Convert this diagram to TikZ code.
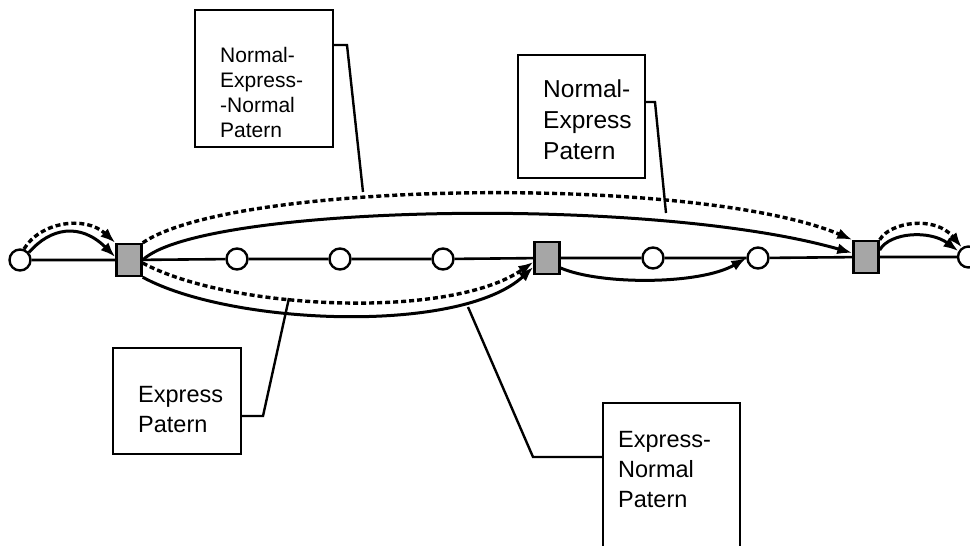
\documentclass[tikz,border=0pt]{standalone}
\usepackage{fontspec}
\setmainfont{Liberation Sans}
\usetikzlibrary{arrows.meta}
\begin{document}
\begin{tikzpicture}[x=1pt,y=-1pt,
  stn/.style={circle,draw,line width=2.4pt,minimum size=21pt,inner sep=0pt,fill=white},
  sqr/.style={rectangle,draw,line width=2.4pt,minimum width=25pt,minimum height=32pt,inner sep=0pt,fill=black!35},
  lbox/.style={rectangle,draw,line width=2.2pt,inner sep=0pt},
  ltext/.style={anchor=base west,inner sep=0pt,align=left},
  sol/.style={line width=3pt,-{Latex[length=15pt,width=11pt]}},
  dsh/.style={line width=3.4pt,dash pattern=on 5pt off 3pt,-{Latex[length=15pt,width=11pt]}},
  call/.style={line width=2.4pt}]
\useasboundingbox (0,0) rectangle (970,546);

% stations
\node[stn] (c0) at (20,260) {};
\node[sqr] (sq1) at (129,260) {};
\node[stn] (c1) at (237,259) {};
\node[stn] (c2) at (340,259) {};
\node[stn] (c3) at (443,259) {};
\node[sqr] (sq2) at (547,258) {};
\node[stn] (c4) at (653,258) {};
\node[stn] (c5) at (758,258) {};
\node[sqr] (sq3) at (866,257) {};
\node[stn] (c6) at (968.5,257) {};

% main line
\draw[line width=2.6pt] (c0) -- (sq1) -- (c1) -- (c2) -- (c3) -- (sq2) -- (c4) -- (c5) -- (sq3) -- (c6);

% left small curves
\draw[sol] (c0.40) .. controls (50,228) and (80,222) .. ([yshift=3pt]sq1.west);
\draw[dsh] (c0.70) .. controls (40,222) and (85,215) .. (sq1.north west);

% big top curves
\draw[dsh] (sq1.north east) .. controls (235,180) and (700,175) .. (sq3.north west);
\draw[sol] (sq1.east) .. controls (200,205) and (650,195) .. ([yshift=4pt]sq3.west);

% bottom curves
\draw[sol] (sq1.south east) .. controls (230,325) and (460,335) .. ([yshift=-9pt]sq2.west);
\draw[dsh] ([yshift=-3pt]sq1.east) .. controls (230,310) and (450,320) .. ([yshift=-4pt]sq2.west);

% sq2 to c5
\draw[sol] ([yshift=-10pt]sq2.east) .. controls (600,285) and (700,285) .. (c5.west);

% right small curves
\draw[sol] ([yshift=7pt]sq3.east) .. controls (890,232) and (930,230) .. (c6.150);
\draw[dsh] (sq3.north east) .. controls (890,222) and (935,215) .. (c6.125);

% label boxes
\node[lbox,minimum width=138pt,minimum height=137pt] (b1) at (264,78.5) {};
\node[ltext,font=\fontsize{21}{24.7}\selectfont] (t1) at (220,137) {Normal-\\Express-\\-Normal\\Patern};

\node[lbox,minimum width=127pt,minimum height=123pt] (b2) at (581.5,116.5) {};
\node[ltext,font=\fontsize{24.5}{31}\selectfont] (t2) at (543,159) {Normal-\\Express\\Patern};

\node[lbox,minimum width=128pt,minimum height=106pt] (b3) at (177,401) {};
\node[ltext,font=\fontsize{23.5}{30}\selectfont] (t3) at (138,432) {Express\\Patern};

\node[lbox,minimum width=137pt,minimum height=170pt] (b4) at (671.5,488) {};
\node[ltext,font=\fontsize{23.5}{30}\selectfont] (t4) at (618,507) {Express-\\Normal\\Patern};

% callouts
\coordinate (k1) at (347,45);  \coordinate (e1) at (363,192);
\coordinate (k2) at (655,102); \coordinate (e2) at (666,213);
\coordinate (k3) at (263,416); \coordinate (e3) at (289,298);
\coordinate (k4) at (533,457); \coordinate (e4) at (468,307);
\draw[call] (b1.east |- k1) -- (k1) -- (e1);
\draw[call] (b2.east |- k2) -- (k2) -- (e2);
\draw[call] (b3.east |- k3) -- (k3) -- (e3);
\draw[call] (b4.west |- k4) -- (k4) -- (e4);
\end{tikzpicture}
\end{document}
